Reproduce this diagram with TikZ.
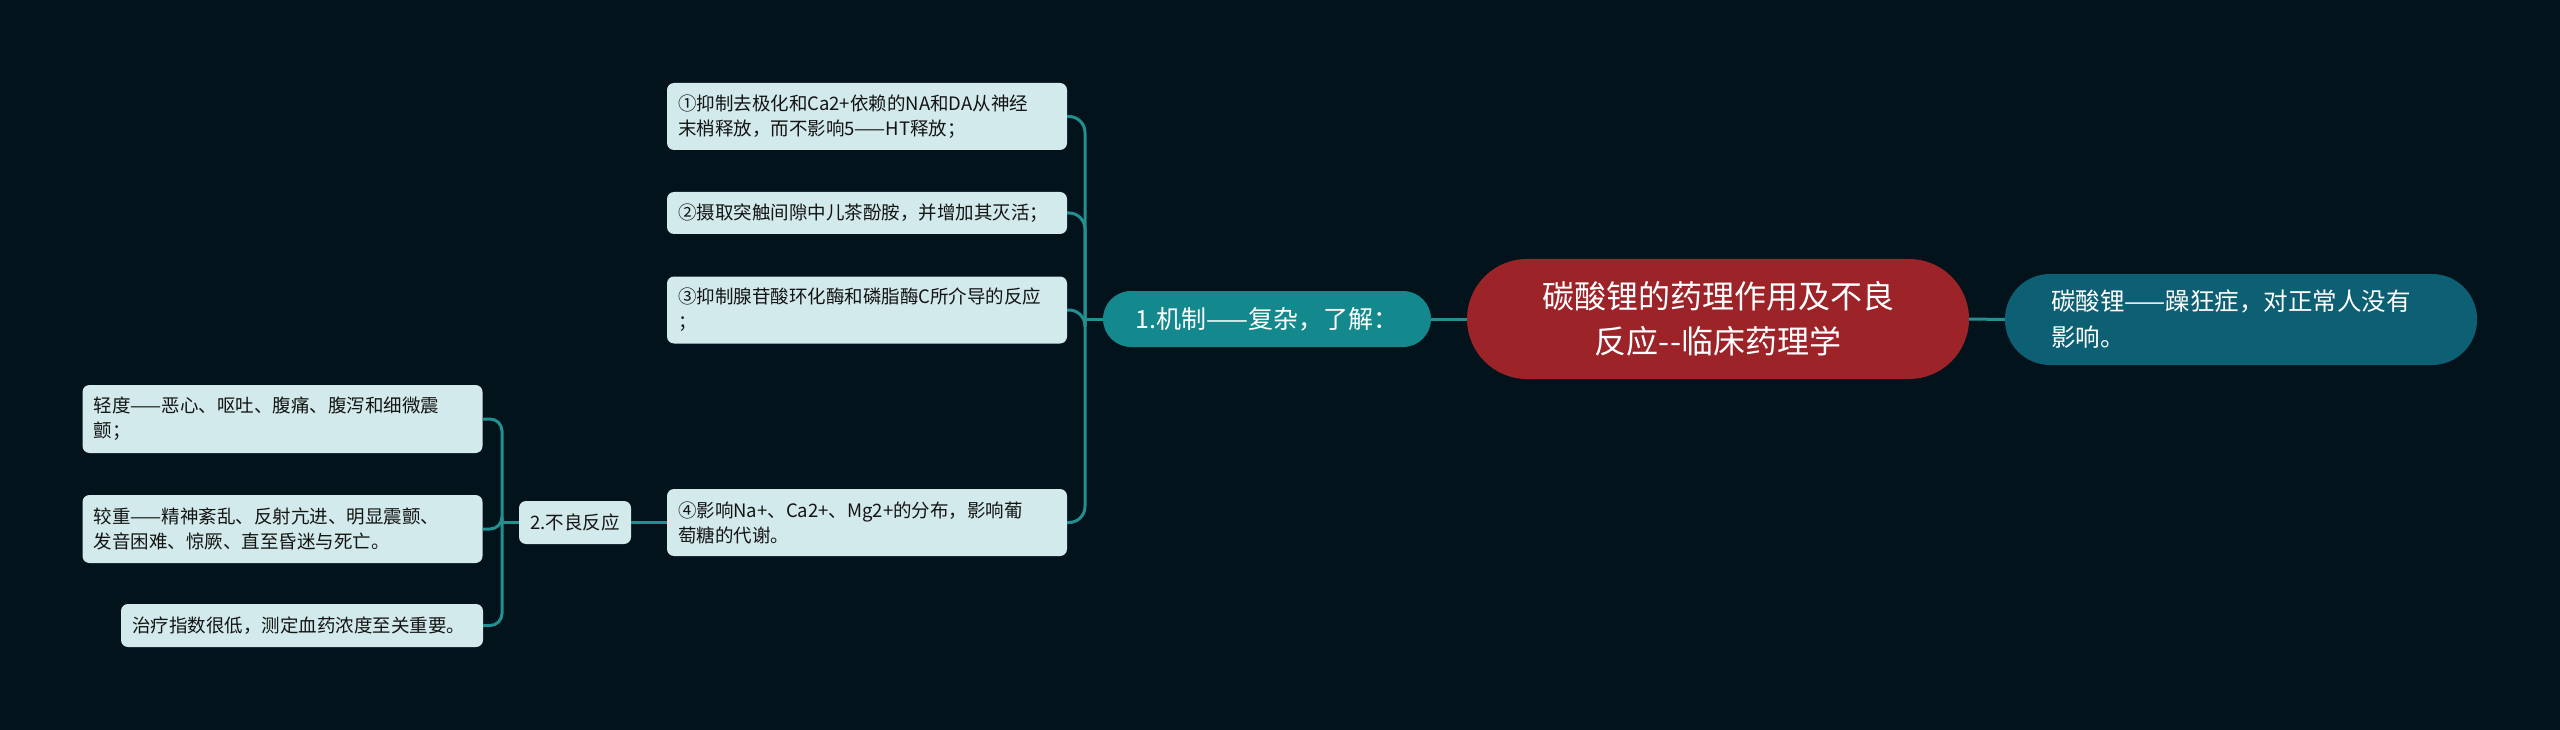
\documentclass[tikz,border=0pt]{standalone}
\usepackage{fontspec}
\setmainfont{Noto Sans CJK SC}
\usepackage{xcolor}
\usepackage{tikz}
\usetikzlibrary{calc}

\definecolor{bgdark}{HTML}{03131C}
\definecolor{rootred}{HTML}{9C2328}
\definecolor{maniablue}{HTML}{0D5F73}
\definecolor{mechteal}{HTML}{14898D}
\definecolor{leafbg}{HTML}{D2EAEB}
\definecolor{linkteal}{HTML}{22908F}
\definecolor{leaftext}{HTML}{141414}

\begin{document}
\begin{tikzpicture}[x=1pt, y=-1pt,
  leaf/.style={fill=leafbg, text=leaftext, rounded corners=7pt, align=left,
    text width=378pt, inner xsep=11pt, inner ysep=0pt,
    font=\fontsize{18.5}{25}\selectfont},
  link/.style={draw=linkteal, line width=3pt}]

% Background
\useasboundingbox (0,0) rectangle (2560,730);
\fill[bgdark] (0,0) rectangle (2560,730);

% Central topic
\node[fill=rootred, text=white, rounded corners=60pt, align=center,
  minimum width=502pt, minimum height=120pt, inner sep=0pt,
  font=\fontsize{32}{45}\selectfont] (root) at (1718,319)
  {碳酸锂的药理作用及不良\\反应-{}-临床药理学};

% Right branch
\node[fill=maniablue, text=white, rounded corners=45pt, align=left,
  text width=380pt, inner xsep=46pt, minimum height=91pt,
  font=\fontsize{24.5}{36}\selectfont] (mania) at (2241,319.5)
  {碳酸锂——躁狂症，对正常人没有\\影响。};

% Left branch: mechanism
\node[fill=mechteal, text=white, rounded corners=28pt, align=center,
  minimum width=328pt, minimum height=56pt, inner sep=0pt,
  font=\fontsize{25}{30}\selectfont] (mech) at (1267,319)
  {1.机制——复杂，了解：};

\node[leaf, minimum height=67pt] (m1) at (867,116.5)
  {①抑制去极化和Ca2+依赖的NA和DA从神经\\末梢释放，而不影响5——HT释放；};
\node[leaf, minimum height=42pt] (m2) at (867,213)
  {②摄取突触间隙中儿茶酚胺，并增加其灭活；};
\node[leaf, minimum height=67pt] (m3) at (867,310)
  {③抑制腺苷酸环化酶和磷脂酶C所介导的反应\\；};
\node[leaf, minimum height=67pt] (m4) at (867,522.5)
  {④影响Na+、Ca2+、Mg2+的分布，影响葡\\萄糖的代谢。};

% Adverse reactions
\node[leaf, text width=, inner xsep=8.5pt, minimum width=112pt,
  minimum height=43pt, align=center] (adv) at (575,522.5) {2.不良反应};

\node[leaf, minimum height=68pt] (mild) at (282.5,419)
  {轻度——恶心、呕吐、腹痛、腹泻和细微震\\颤；};
\node[leaf, minimum height=68pt] (severe) at (282.5,529)
  {较重——精神紊乱、反射亢进、明显震颤、\\发音困难、惊厥、直至昏迷与死亡。};
\node[leaf, text width=340pt, minimum height=43pt] (dose) at (302,625.5)
  {治疗指数很低，测定血药浓度至关重要。};

% Connectors
\draw[link] (root.east) -- (mania.west);
\draw[link] (mech.east) -- (root.west);

\coordinate (mtrunk) at (1085,319);
\draw[link] (mech.west) -- (mtrunk);
\foreach \c in {m1,m2,m3,m4} {
    \draw[link, rounded corners=16pt] (mtrunk) |- (\c.east);
}

\draw[link] (adv.east) -- (m4.west);
\coordinate (atrunk) at (502,522.5);
\draw[link] (adv.west) -- (atrunk);
\foreach \c in {mild,severe,dose} {
    \draw[link, rounded corners=12pt] (atrunk) |- (\c.east);
}

\end{tikzpicture}
\end{document}
